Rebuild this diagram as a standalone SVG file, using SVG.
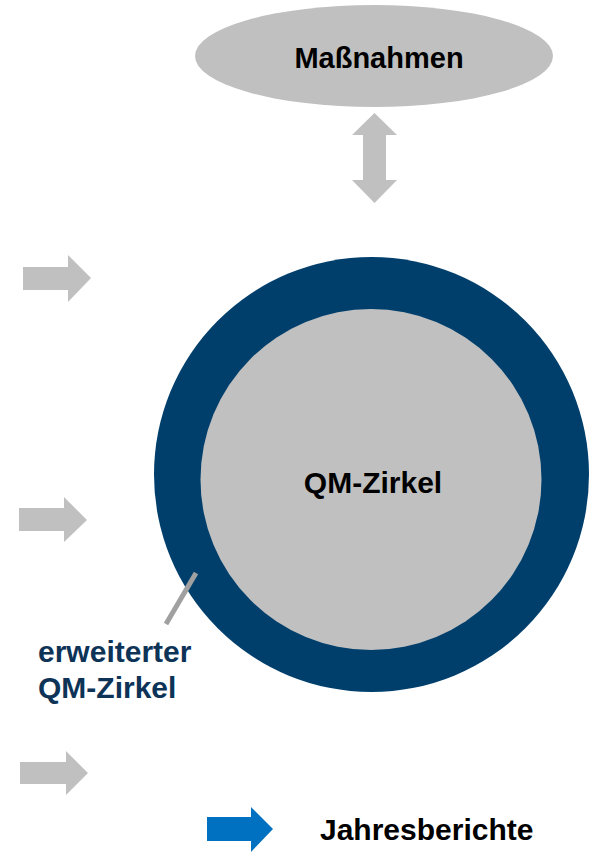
<svg xmlns="http://www.w3.org/2000/svg" width="596" height="854" viewBox="0 0 596 854">
<style>
.gray{fill:#c0c0c0}
.t{font-family:"Liberation Sans",Arial,sans-serif;font-weight:bold;font-size:29px;fill:#000}
.lbl{font-family:"Liberation Sans",Arial,sans-serif;font-weight:bold;font-size:30px;fill:#0d3357}
</style>
<rect width="596" height="854" fill="#fff"/>
<g id="massnahmen">
<ellipse class="gray" cx="374" cy="56" rx="179" ry="51"/>
<text class="t" x="379" y="68" text-anchor="middle">Maßnahmen</text>
</g>
<g id="qm-zirkel">
<circle cx="371.5" cy="474.5" r="217.5" fill="#003f6c"/>
<circle class="gray" cx="371" cy="479.5" r="170.5"/>
<text class="t" x="373" y="493" text-anchor="middle" style="font-size:30px">QM-Zirkel</text>
</g>
<g id="erweiterter-label">
<text class="lbl" x="38" y="662">erweiterter</text>
<text class="lbl" x="38" y="698">QM-Zirkel</text>
</g>
<g id="jahresberichte">
<text class="t" x="320" y="840" style="font-size:30px">Jahresberichte</text>
</g>
<g id="connectors">
<polygon class="gray" points="374.5,113 397,135 386,135 386,180 397,180 374.5,203 352,180 363,180 363,135 352,135"/>
<polygon class="gray" points="23,267 68,267 68,255 91,278 68,302 68,290 23,290"/>
<polygon class="gray" points="19,508 64,508 64,497 87,520 64,542 64,531 19,531"/>
<polygon class="gray" points="20,762 66,762 66,751 88,773 66,795 66,784 20,784"/>
<polygon fill="#0070c0" points="207,817 251,817 251,807 273,829 251,852 251,841 207,841"/>
<line x1="196" y1="573" x2="166" y2="624" stroke="#a0a0a0" stroke-width="5"/>
</g>
</svg>
